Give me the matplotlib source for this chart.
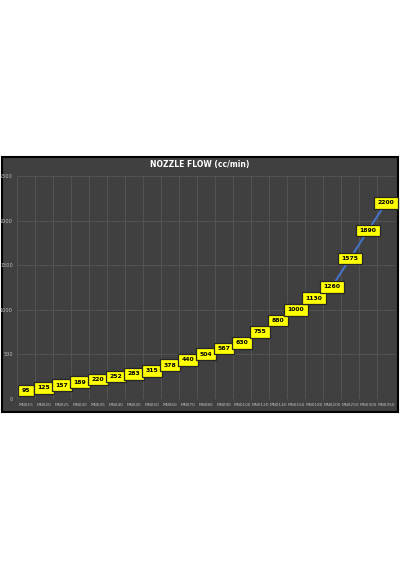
import matplotlib
matplotlib.use("Agg")
import matplotlib.pyplot as plt
from matplotlib.patches import Rectangle

categories = ["MN015", "MN020", "MN025", "MN030", "MN035", "MN040", "MN045", "MN050",
              "MN060", "MN070", "MN080", "MN090", "MN0100", "MN0120", "MN0140",
              "MN0160", "MN0180", "MN0200", "MN0250", "MN0300", "MN0350"]
flow = [95, 125, 157, 189, 220, 252, 283, 315, 378, 440, 504, 567, 630, 755, 880,
        1000, 1130, 1260, 1575, 1890, 2200]
yticks = [0, 500, 1000, 1500, 2000, 2500]
title = "NOZZLE FLOW (cc/min)"

fig = plt.figure(figsize=(4, 5.7), dpi=100)
fig.patch.set_facecolor("white")
bg = Rectangle((0.004, 0.277), 0.992, 0.448, transform=fig.transFigure,
               facecolor="#404040", edgecolor="black", linewidth=1.5, zorder=-10)
fig.add_artist(bg)

ax = fig.add_axes([0.0425, 0.30, 0.945, 0.391])
ax.set_zorder(5)
ax.set_facecolor("none")
x = list(range(len(categories)))
ax.plot(x, flow, color="#4472C4", linewidth=1.5, zorder=2)
for xi, v in zip(x, flow):
    ax.text(xi, v, str(v), ha="center", va="center", fontsize=4.4, fontweight="bold",
            color="black", zorder=3,
            bbox=dict(boxstyle="square,pad=0.55", facecolor="#FFFF00", edgecolor="#262626",
                      linewidth=0.9))

ax.set_xlim(-0.5, len(categories) - 0.5)
ax.set_ylim(0, 2500)
ax.set_yticks(yticks)
ax.set_yticklabels([str(t) for t in yticks])
ax.set_xticks(x)
ax.set_xticklabels(categories)
ax.tick_params(axis="y", length=0, colors="#BFBFBF", labelsize=3.6, pad=3)
ax.tick_params(axis="x", length=0, colors="#BFBFBF", labelsize=3.1, pad=3)
ax.grid(False)
for t in yticks:
    ax.axhline(t, color="#565656", linewidth=0.6, zorder=1)
for i in range(len(categories) + 1):
    ax.axvline(i - 0.5, color="#565656", linewidth=0.6, zorder=1)
for s in ax.spines.values():
    s.set_visible(False)

fig.text(0.5, 0.711, title, ha="center", va="center", color="white",
         fontsize=5.5, fontweight="bold", zorder=6)

fig.savefig("out.png", dpi=100)
